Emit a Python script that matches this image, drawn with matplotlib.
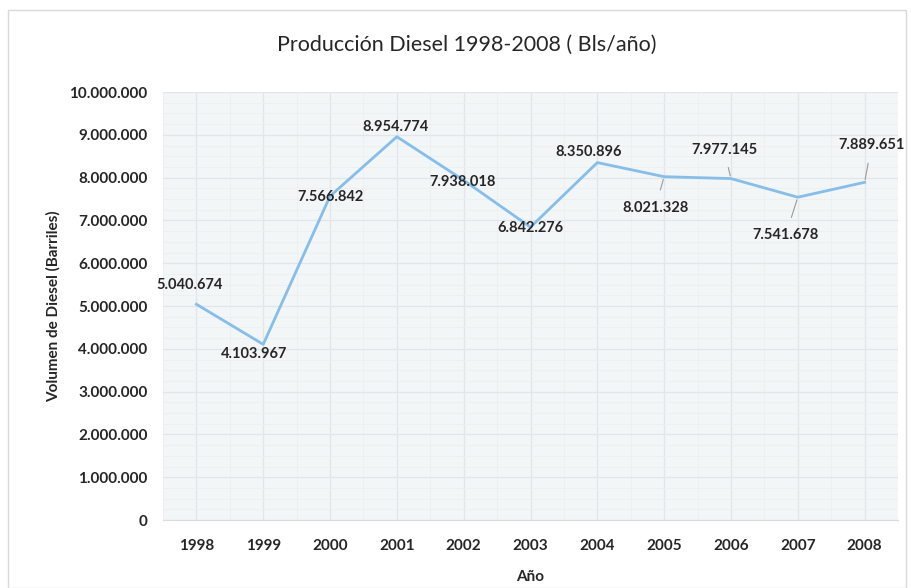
"""
Producción anual de diesel 1998-2008, en barriles por año.
"""
import matplotlib.pyplot as plt
from matplotlib.patches import Rectangle
from matplotlib.ticker import FuncFormatter, MultipleLocator

years = ["1998", "1999", "2000", "2001", "2002", "2003",
         "2004", "2005", "2006", "2007", "2008"]
volumen = [5040674, 4103967, 7566842, 8954774, 7938018, 6842276,
           8350896, 8021328, 7977145, 7541678, 7889651]

# label offsets in pixels from each point, and whether a leader line is drawn
offsets = [(-7, 19), (-9, -10), (0, -1), (-1, 10), (-1, -2), (0, -1),
           (-9, 11), (-9, -31), (-7, 29), (-12, -38), (7, 37)]
leaders = [False] * 7 + [True] * 4

plt.rcParams["font.family"] = ["Lato", "DejaVu Sans"]

fig = plt.figure(figsize=(9.12, 5.88), dpi=100)
fig.patches.append(Rectangle((8 / 912, 0), 898 / 912, 1 - 10 / 588,
                             transform=fig.transFigure, fill=False,
                             edgecolor="#d9d9d9", linewidth=1))
ax = fig.add_axes([163 / 912, 1 - 520 / 588, 735 / 912, 428 / 588])
ax.set_facecolor("#f3f6f7")

x = list(range(len(years)))
ax.plot(x, volumen, color="#86bde9", linewidth=2, zorder=3)

def miles(v, pos):
    return f"{int(v):,}".replace(",", ".")

for i, (v, (dx, dy), lead) in enumerate(zip(volumen, offsets, leaders)):
    props = None
    if lead:
        props = dict(arrowstyle="-", color="#9a9a9a", linewidth=0.8,
                     shrinkA=6, shrinkB=2)
    ax.annotate(miles(v, None), (i, v), xytext=(dx, dy),
                textcoords="offset pixels", ha="center", va="center",
                fontsize=10.5, fontweight="bold", color="#262626",
                arrowprops=props, zorder=4)

ax.set_xlim(-0.5, len(years) - 0.5)
ax.set_ylim(0, 10000000)
ax.set_xticks(x)
ax.set_xticklabels(years)
ax.yaxis.set_major_locator(MultipleLocator(1000000))
ax.yaxis.set_minor_locator(MultipleLocator(250000))
ax.xaxis.set_minor_locator(MultipleLocator(0.5))
ax.yaxis.set_major_formatter(FuncFormatter(miles))

ax.grid(which="major", color="#e2e6e8", linewidth=0.9)
ax.grid(which="minor", color="#ebeff0", linewidth=0.6)
ax.set_axisbelow(True)
ax.tick_params(which="both", length=0)
ax.tick_params(axis="y", pad=11)
ax.tick_params(axis="x", pad=14)
for lbl in ax.get_xticklabels() + ax.get_yticklabels():
    lbl.set_fontweight("bold")
    lbl.set_fontsize(11)
    lbl.set_color("#262626")

for side in ["top", "right", "left"]:
    ax.spines[side].set_visible(False)
ax.spines["bottom"].set_color("#d8dcde")

ax.set_xlabel("Año", fontsize=11, fontweight="bold", color="#262626",
              labelpad=12)
ax.set_ylabel("Volumen de Diesel (Barriles)", fontsize=11,
              fontweight="bold", color="#262626", labelpad=6)
fig.text(467 / 912, 1 - 45 / 588, "Producción Diesel 1998-2008 ( Bls/año)",
         ha="center", va="center", fontsize=15.5, color="#262626")

fig.savefig("out.png", dpi=100)
